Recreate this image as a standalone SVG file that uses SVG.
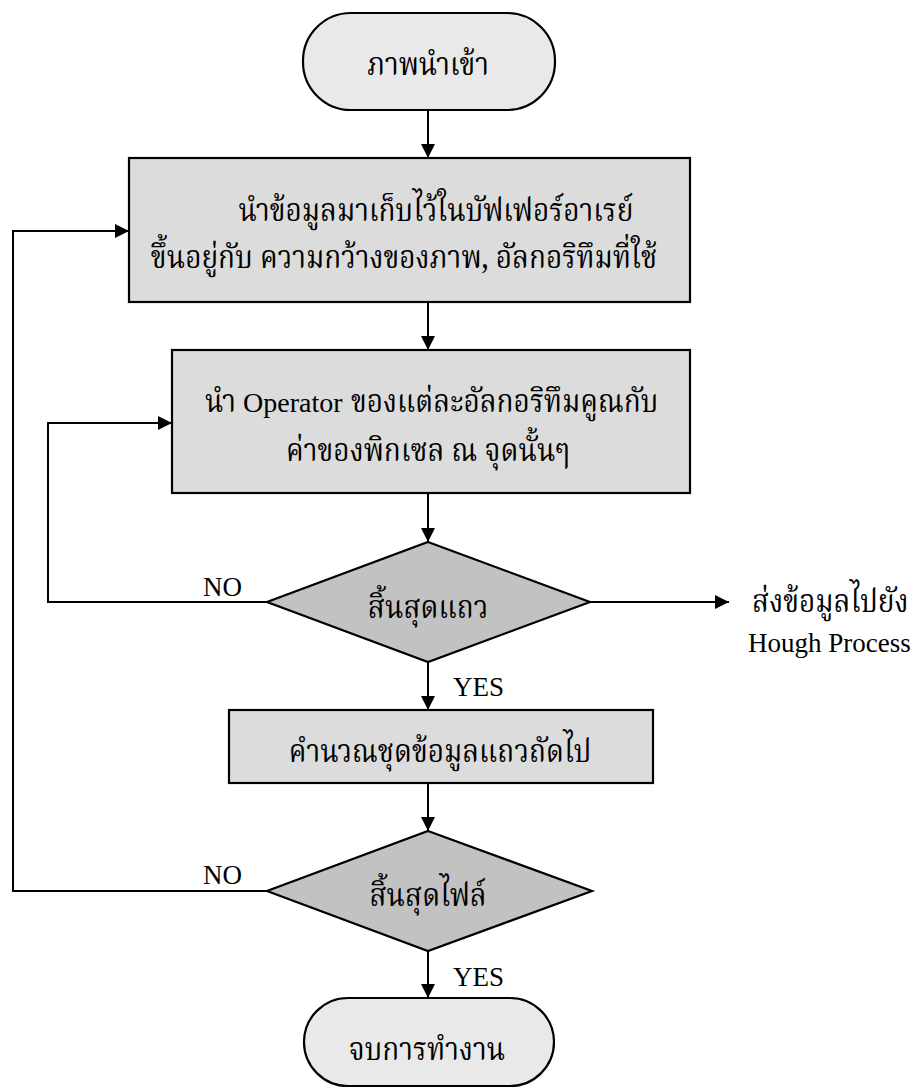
<svg xmlns="http://www.w3.org/2000/svg" width="918" height="1090" viewBox="0 0 918 1090">
  <style>
    .term { fill: #e9e9e9; stroke: #000; stroke-width: 2.2; }
    .proc { fill: #dcdcdc; stroke: #000; stroke-width: 2.2; }
    .dec { fill: #c2c2c2; stroke: #000; stroke-width: 2.2; }
    .wire { fill: none; stroke: #000; stroke-width: 2; }
    .th { font-family: "Norasi", "Kinnari", "Noto Serif Thai", "Liberation Serif", serif; font-size: 28px; fill: #000; text-anchor: middle; }
    .ths { text-anchor: start; }
    .lat { font-family: "Liberation Serif", serif; font-size: 27px; fill: #000; }
  </style>
  <defs>
    <marker id="arrow" viewBox="0 0 14 14" refX="14" refY="7" markerWidth="14" markerHeight="14" markerUnits="userSpaceOnUse" orient="auto">
      <path d="M0,0 L14,7 L0,14 Z" fill="#000"/>
    </marker>
  </defs>

  <!-- connectors -->
  <g id="connectors">
    <path class="wire" d="M428,110 V158" marker-end="url(#arrow)"/>
    <path class="wire" d="M428,302 V350" marker-end="url(#arrow)"/>
    <path class="wire" d="M428,493 V542" marker-end="url(#arrow)"/>
    <path class="wire" d="M428,662 V710" marker-end="url(#arrow)"/>
    <path class="wire" d="M428,783 V831" marker-end="url(#arrow)"/>
    <path class="wire" d="M428,951 V998" marker-end="url(#arrow)"/>
    <!-- end of row: loop back to multiply step -->
    <path class="wire" d="M267,602 H48 V423 H172" marker-end="url(#arrow)"/>
    <!-- end of file: loop back to buffer step -->
    <path class="wire" d="M267,891 H13 V231 H129" marker-end="url(#arrow)"/>
    <!-- output to Hough -->
    <path class="wire" d="M590,602 H729" marker-end="url(#arrow)"/>
    <text class="lat" x="203" y="596">NO</text>
    <text class="lat" x="203" y="884">NO</text>
    <text class="lat" x="453" y="696">YES</text>
    <text class="lat" x="453" y="986">YES</text>
  </g>

  <g id="start">
    <rect class="term" x="303" y="13" width="252" height="97" rx="48" ry="48"/>
    <text class="th" transform="translate(428,75) scale(1,1.15)">ภาพนำเข้า</text>
  </g>

  <g id="buffer">
    <rect class="proc" x="129" y="158" width="561" height="144"/>
    <text class="th" transform="translate(436,221) scale(1,1.15)">นำข้อมูลมาเก็บไว้ในบัฟเฟอร์อาเรย์</text>
    <text class="th" transform="translate(404,268) scale(1,1.15)">ขึ้นอยู่กับ  ความกว้างของภาพ, อัลกอริทึมที่ใช้</text>
  </g>

  <g id="multiply">
    <rect class="proc" x="172" y="350" width="518" height="143"/>
    <text class="th ths" transform="translate(205,412) scale(1,1.15)">นำ</text>
    <text class="lat" x="243" y="412" style="font-size:28px">Operator</text>
    <text class="th ths" transform="translate(351,412) scale(1,1.15)">ของแต่ละอัลกอริทึมคูณกับ</text>
    <text class="th" transform="translate(428,461) scale(1,1.15)">ค่าของพิกเซล ณ จุดนั้นๆ</text>
  </g>

  <g id="end-row">
    <polygon class="dec" points="428,542 590,602 428,662 267,602"/>
    <text class="th" transform="translate(428,618) scale(1,1.15)">สิ้นสุดแถว</text>
  </g>

  <g id="send-hough">
    <text class="th ths" transform="translate(752,612) scale(1,1.15)">ส่งข้อมูลไปยัง</text>
    <text class="lat" x="748" y="652">Hough Process</text>
  </g>

  <g id="next-row">
    <rect class="proc" x="229" y="710" width="424" height="73"/>
    <text class="th" transform="translate(440,762) scale(1,1.15)">คำนวณชุดข้อมูลแถวถัดไป</text>
  </g>

  <g id="end-file">
    <polygon class="dec" points="428,831 592,891 428,951 267,891"/>
    <text class="th" transform="translate(428,906) scale(1,1.15)">สิ้นสุดไฟล์</text>
  </g>

  <g id="finish">
    <rect class="term" x="304" y="998" width="250" height="88" rx="44" ry="44"/>
    <text class="th" transform="translate(427,1060) scale(1,1.15)">จบการทำงาน</text>
  </g>
</svg>
